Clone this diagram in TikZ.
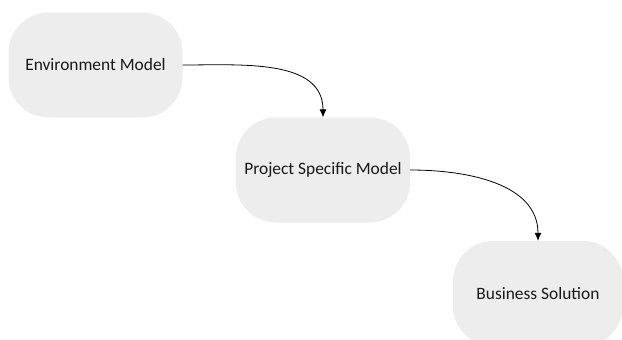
\documentclass[tikz,border=0pt]{standalone}
\usepackage{fontspec}
\setmainfont{Carlito}
\usetikzlibrary{arrows.meta}
\definecolor{boxgray}{HTML}{EDEDED}
\tikzset{
  stage/.style={fill=boxgray, draw=none, rounded corners=40pt,
    minimum width=174pt, minimum height=105pt, inner sep=0pt,
    font=\fontsize{17.4pt}{20pt}\selectfont, text=black!90},
  flow/.style={draw=black, line width=0.8pt,
    -{Latex[length=8pt,width=7pt]}}
}
\begin{document}
\begin{tikzpicture}[x=1pt,y=-1pt]
  \useasboundingbox (0,0) rectangle (622,340);
  \clip (0,0) rectangle (622,340);
  \node[stage] (env) at (95.5,65) {Environment Model};
  \node[stage] (psm) at (323,170) {Project Specific Model};
  \node[stage, minimum width=170pt] (bus) at (538,293.5) {Business Solution};
  \draw[flow] (env.east) to[out=0,in=90] (psm.north);
  \draw[flow] (psm.east) to[out=0,in=90] (bus.north);
\end{tikzpicture}
\end{document}
